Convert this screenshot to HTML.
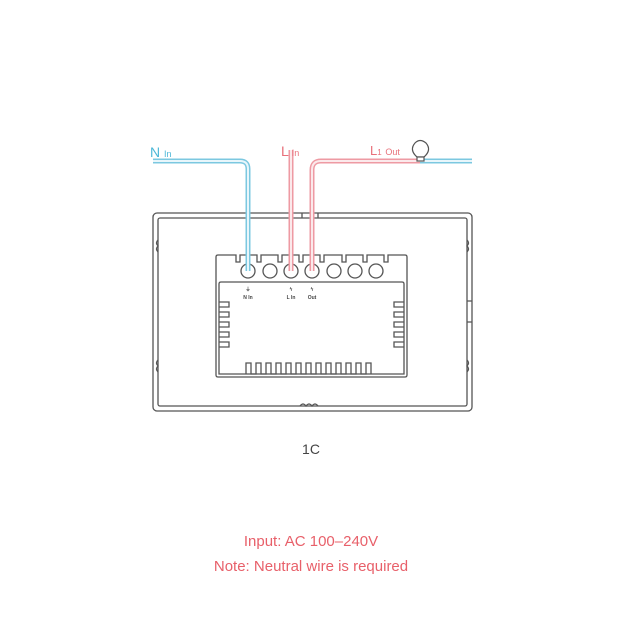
<!DOCTYPE html>
<html><head><meta charset="utf-8"><style>
html,body{margin:0;padding:0;background:#fff;width:623px;height:625px;overflow:hidden}
</style></head><body>
<svg width="623" height="625" viewBox="0 0 623 625" xmlns="http://www.w3.org/2000/svg">
<g fill="none" stroke="#555" stroke-width="1.3">
<rect x="153" y="213" width="319" height="198" rx="4"/>
<rect x="158" y="218" width="309" height="188" rx="2"/>
<path d="M302,213 v5 M318,213 v5"/>
<path d="M300,406 q3,-4 6,0 q3,-4 6,0 q3,-4 6,0"/>
<path d="M158,240 q-3,3 0,6 q-3,3 0,6 M158,360 q-3,3 0,6 q-3,3 0,6 M467,240 q3,3 0,6 q3,3 0,6 M467,360 q3,3 0,6 q3,3 0,6"/>
<path d="M467,301 h5 M467,322 h5"/>
<path d="M216,257 q0,-2 2,-2 H236 V262 H240 V255 H257 V262 H261 V255 H278 V262 H282 V255 H299 V262 H303 V255 H320 V262 H324 V255 H342 V262 H346 V255 H363 V262 H367 V255 H384 V262 H388 V255 H405 q2,0 2,2 V375 q0,2 -2,2 H218 q-2,0 -2,-2 Z"/>
<path d="M219,284 q0,-2 2,-2 h181 q2,0 2,2 V374 H219 Z"/>
<path d="M219,302 h10 v5 h-10 M219,312 h10 v5 h-10 M219,322 h10 v5 h-10 M219,332 h10 v5 h-10 M219,342 h10 v5 h-10"/>
<path d="M404,302 h-10 v5 h10 M404,312 h-10 v5 h10 M404,322 h-10 v5 h10 M404,332 h-10 v5 h10 M404,342 h-10 v5 h10"/>
<path d="M246,374 V363 h5 V374 h5 V363 h5 V374 h5 V363 h5 V374 h5 V363 h5 V374 h5 V363 h5 V374 h5 V363 h5 V374 h5 V363 h5 V374 h5 V363 h5 V374 h5 V363 h5 V374 h5 V363 h5 V374 h5 V363 h5 V374 h5 V363 h5 V374 h5 V363 h5 V374"/>
<circle cx="248" cy="271" r="7"/><circle cx="270" cy="271" r="7"/><circle cx="291" cy="271" r="7"/><circle cx="312" cy="271" r="7"/><circle cx="334" cy="271" r="7"/><circle cx="355" cy="271" r="7"/><circle cx="376" cy="271" r="7"/>
</g>
<g font-family="Liberation Sans, sans-serif" font-size="5" fill="#444" text-anchor="middle" font-weight="bold">
<text x="248" y="291">⏚</text><text x="248" y="299">N In</text>
<text x="291" y="291">ϟ</text><text x="291" y="299">L In</text>
<text x="312" y="291">ϟ</text><text x="312" y="299">Out</text>
</g>
<g fill="none" stroke-linecap="butt">
<path d="M153,161 H240 Q248,161 248,169 V271" stroke="#7cc8e0" stroke-width="5"/>
<path d="M153,161 H240 Q248,161 248,169 V271" stroke="#e8f6fb" stroke-width="2"/>
<path d="M291,150 V271" stroke="#ee9aa3" stroke-width="5"/>
<path d="M291,150 V271" stroke="#fbe9eb" stroke-width="2"/>
<path d="M312,271 V170 Q312,161 321,161 H420" stroke="#ee9aa3" stroke-width="5"/>
<path d="M312,271 V170 Q312,161 321,161 H420" stroke="#fbe9eb" stroke-width="2"/>
<path d="M420,161 H472" stroke="#7cc8e0" stroke-width="5"/>
<path d="M420,161 H472" stroke="#e8f6fb" stroke-width="2"/>
</g>
<g fill="#fff" stroke="#555" stroke-width="1.2">
<path d="M417,157 q-8,-7 -2,-14 q5,-5 11,0 q6,7 -2,14 Z"/>
<rect x="417" y="157" width="7" height="4"/>
</g>
<g font-family="Liberation Sans, sans-serif">
<text x="150" y="157" font-size="14" fill="#4db8d8">N <tspan font-size="9">In</tspan></text>
<text x="281" y="156" font-size="14" fill="#e8707a">L<tspan dx="3" font-size="9">In</tspan></text>
<text x="370" y="155" font-size="13" fill="#e8707a">L<tspan font-size="8">1</tspan> <tspan font-size="9">Out</tspan></text>
<text x="311" y="454" font-size="14" fill="#444" text-anchor="middle">1C</text>
<text x="311" y="546" font-size="15" fill="#e8606a" text-anchor="middle">Input: AC 100–240V</text>
<text x="311" y="571" font-size="15" fill="#e8606a" text-anchor="middle">Note: Neutral wire is required</text>
</g>
</svg>
</body></html>
